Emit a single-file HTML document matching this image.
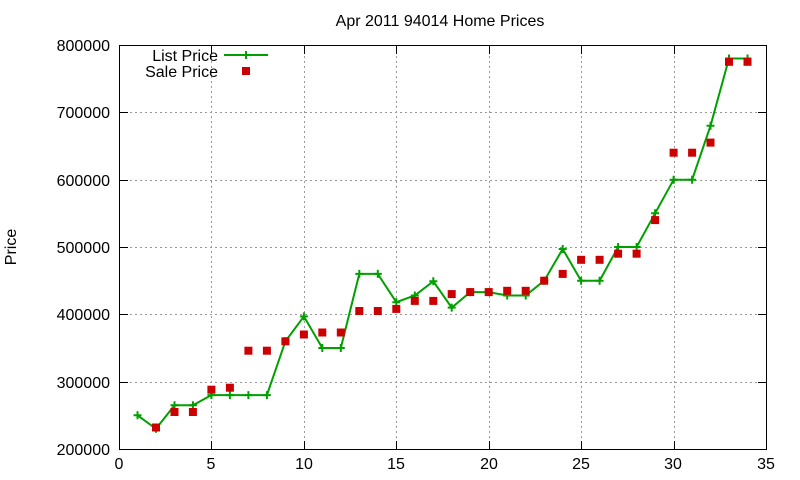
<!DOCTYPE html>
<html><head><meta charset="utf-8"><style>
body{margin:0;background:#fff}
svg{display:block;font-family:"Liberation Sans",sans-serif;font-size:16px}
</style></head><body>
<svg id="s" width="800" height="480" xmlns="http://www.w3.org/2000/svg">
<rect width="800" height="480" fill="#fff"/>
<g id="grid" stroke="#999" stroke-width="1" stroke-dasharray="2,3"></g>
<rect x="119.5" y="45.5" width="647" height="404" fill="none" stroke="#000"/>
<g id="ticks" stroke="#000"></g>
<text x="440" y="26" text-anchor="middle">Apr 2011 94014 Home Prices</text>
<text x="16" y="247" text-anchor="middle" transform="rotate(-90 16 247)">Price</text>
<g text-anchor="end">
<text x="110" y="455">200000</text>
<text x="110" y="388">300000</text>
<text x="110" y="320">400000</text>
<text x="110" y="253">500000</text>
<text x="110" y="186">600000</text>
<text x="110" y="118">700000</text>
<text x="110" y="51">800000</text>
</g>
<g text-anchor="middle">
<text x="119" y="469">0</text>
<text x="211" y="469">5</text>
<text x="304" y="469">10</text>
<text x="396" y="469">15</text>
<text x="489" y="469">20</text>
<text x="581" y="469">25</text>
<text x="673" y="469">30</text>
<text x="766" y="469">35</text>
</g>
<g text-anchor="end">
<text x="218" y="61">List Price</text>
<text x="218" y="77">Sale Price</text>
</g>
<line x1="224" y1="55" x2="268" y2="55" stroke="#00a000" stroke-width="2"/>
<path d="M242 55h8M246 51v8" stroke="#00a000" stroke-width="2"/>
<rect x="242" y="67" width="8" height="8" fill="#cc0000"/>
<g id="data"></g>
</svg>
<script>
var X=function(v){return 119+v*647/35},Y=function(v){return 449-(v-200000)*404/600000};
var g=document.getElementById('grid'),t=document.getElementById('ticks'),d=document.getElementById('data'),h='',k='';
for(var i=1;i<7;i++){var xx=Math.round(X(i*5))+.5;h+='<line x1="'+xx+'" y1="46" x2="'+xx+'" y2="449"/>';}
for(var j=1;j<6;j++){var yy=Math.round(Y(200000+j*100000))+.5;h+='<line x1="120" y1="'+yy+'" x2="766" y2="'+yy+'"/>';}
g.innerHTML=h;
for(var i=0;i<=7;i++){var xx=Math.round(X(i*5))+.5;k+='<line x1="'+xx+'" y1="449" x2="'+xx+'" y2="441"/><line x1="'+xx+'" y1="46" x2="'+xx+'" y2="54"/>';}
for(var j=0;j<=6;j++){var yy=Math.round(Y(200000+j*100000))+.5;k+='<line x1="120" y1="'+yy+'" x2="128" y2="'+yy+'"/><line x1="766" y1="'+yy+'" x2="758" y2="'+yy+'"/>';}
t.innerHTML=k;
var L=[250000,230000,265000,265000,280000,280000,280000,280000,360000,397000,350000,350000,460000,460000,418000,428000,449000,410000,433000,433000,428000,428000,450000,497000,450000,450000,500000,500000,550000,600000,600000,680000,780000,780000];
var S=[null,232000,255000,255000,288000,291000,346000,346000,360000,370000,373000,373000,405000,405000,408000,420000,420000,430000,433000,433000,435000,435000,450000,460000,481000,481000,490000,490000,540000,640000,640000,655000,775000,775000];
var p='',m='',q='';
L.forEach(function(v,i){var x=X(i+1),y=Y(v);p+=(i?'L':'M')+x.toFixed(1)+' '+y.toFixed(1);m+='M'+(x-4).toFixed(1)+' '+y.toFixed(1)+'h8M'+x.toFixed(1)+' '+(y-4).toFixed(1)+'v8';});
S.forEach(function(v,i){if(v==null)return;q+='<rect x="'+(X(i+1)-4).toFixed(1)+'" y="'+(Y(v)-4).toFixed(1)+'" width="8" height="8" fill="#cc0000"/>';});
d.innerHTML='<path d="'+p+'" fill="none" stroke="#00a000" stroke-width="2"/><path d="'+m+'" stroke="#00a000" stroke-width="2"/>'+q;
</script>
</body></html>
